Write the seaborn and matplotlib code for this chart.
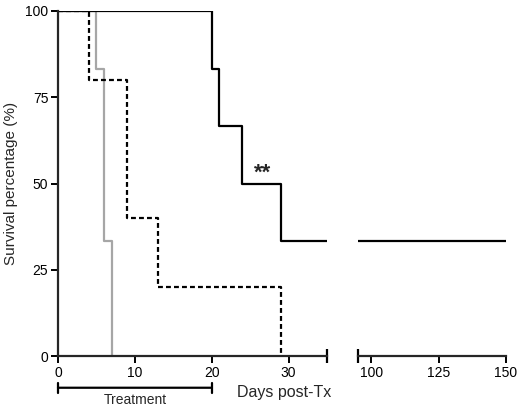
import pandas as pd
import matplotlib
matplotlib.use("Agg")
import matplotlib.pyplot as plt
import seaborn as sns

# Kaplan-Meier steps
solid_days = [0, 20, 21, 24, 29, 150]
solid_surv = [100, 83.3, 66.7, 50, 33.3, 33.3]
dashed_days = [0, 4, 9, 13, 29]
dashed_surv = [100, 80, 40, 20, 0]
gray_days = [0, 5, 6, 7]
gray_surv = [100, 83.3, 33.3, 0]

left_ticks = [0, 10, 20, 30]
right_ticks = [100, 125, 150]
y_ticks = [0, 25, 50, 75, 100]
treatment = (0, 20)

df = pd.concat([
    pd.DataFrame({"day": solid_days, "surv": solid_surv, "group": "solid"}),
    pd.DataFrame({"day": dashed_days, "surv": dashed_surv, "group": "dashed"}),
    pd.DataFrame({"day": gray_days, "surv": gray_surv, "group": "gray"}),
])

sns.set_style("ticks")
plt.rcParams["font.family"] = ["Liberation Sans", "DejaVu Sans"]

fig = plt.figure(figsize=(5.2, 4.09), dpi=100)
ax1 = fig.add_axes([58 / 520, 1 - 356 / 409, (327 - 58) / 520, (356 - 11) / 409])
ax2 = fig.add_axes([358 / 520, 1 - 356 / 409, 148 / 520, (356 - 11) / 409])

styles = {"solid": ("black", "-"), "dashed": ("black", (0, (2.2, 1.4))), "gray": ("#a6a6a6", "-")}

for ax in (ax1, ax2):
    for g in ["gray", "dashed", "solid"]:
        sub = df[df["group"] == g]
        c, ls = styles[g]
        sns.lineplot(data=sub, x="day", y="surv", ax=ax, color=c, linestyle=ls,
                     drawstyle="steps-post", linewidth=1.6, estimator=None,
                     sort=False, legend=False)
    ax.set_ylim(0, 100)
    ax.set_xlabel("")
    ax.set_ylabel("")
    for s in ["top", "right"]:
        ax.spines[s].set_visible(False)
    ax.spines["bottom"].set_linewidth(1.6)
    ax.spines["left"].set_linewidth(1.6)
    ax.tick_params(width=1.4, length=5, labelsize=10, pad=2, colors="black")

ax1.set_xlim(0, 35)
ax1.set_xticks(left_ticks)
ax1.set_yticks(y_ticks)
ax1.set_ylabel("Survival percentage (%)", fontsize=11, labelpad=5)

ax2.set_xlim(95, 150)
ax2.set_xticks(right_ticks)
ax2.spines["left"].set_visible(False)
ax2.set_yticks([])

# end caps of the broken axis
ax1.plot([1], [0], transform=ax1.transAxes, marker="|", markersize=10,
         markeredgewidth=1.6, color="black", clip_on=False)
ax2.plot([0], [0], transform=ax2.transAxes, marker="|", markersize=10,
         markeredgewidth=1.6, color="black", clip_on=False)

# treatment bracket
ax1.annotate("", xy=(treatment[0], -9.2), xytext=(treatment[1], -9.2),
             xycoords="data", annotation_clip=False,
             arrowprops=dict(arrowstyle="|-|,widthA=0.35,widthB=0.35", lw=1.6,
                             color="black", shrinkA=0, shrinkB=0))
ax1.text(sum(treatment) / 2, -12.8, "Treatment", ha="center", va="center",
         fontsize=10, clip_on=False)

ax1.text(26.6, 53, "**", ha="center", va="center", fontsize=16, fontweight="bold")

fig.text(237 / 520, 1 - 392 / 409, "Days post-Tx", ha="left", va="center", fontsize=11.5)

fig.savefig("out.png", dpi=100)
